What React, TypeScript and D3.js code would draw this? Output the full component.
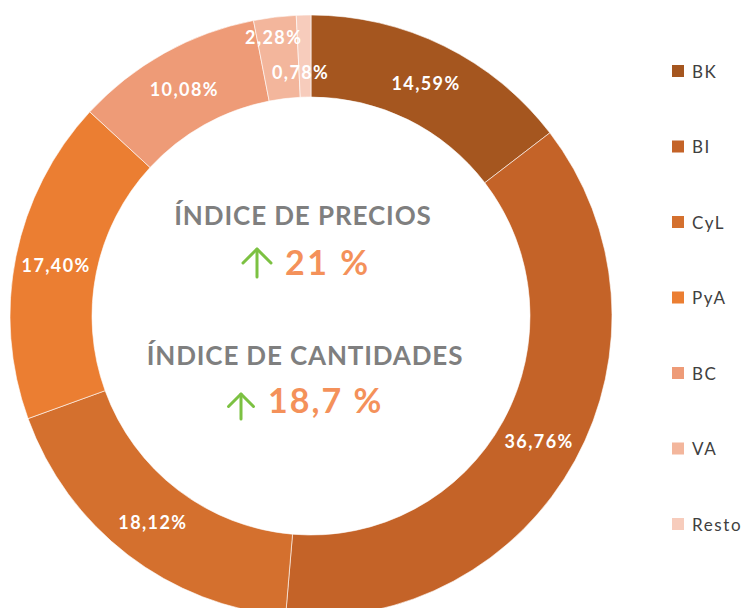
import * as d3 from 'd3'

// regions and their share of the total (%)
const regions = ["BK", "BI", "CyL", "PyA", "BC", "VA", "Resto"]
const shares = [14.59, 36.76, 18.12, 17.40, 10.08, 2.28, 0.78]
const colors = ["#A5561F", "#C46328", "#D4702E", "#EB7E32", "#EE9B77", "#F3B69C", "#F7CCBC"]

// centre captions
const priceTitle = "ÍNDICE DE PRECIOS"
const priceValue = "21 %"
const qtyTitle = "ÍNDICE DE CANTIDADES"
const qtyValue = "18,7 %"

// Excel pushes the two thin slices' labels apart
const labelNudge: Record<string, [number, number]> = {
  VA: [-6, -21],
  Resto: [-4, 16],
}

const width = 744
const height = 608
const cx = 311
const cy = 316
const outerR = 301
const innerR = 219
const font = "Lato, 'Open Sans', sans-serif"

function Arrow({ x, y, h }: { x: number; y: number; h: number }) {
  // simple up arrow, x = centre, y = bottom
  const w = h * 0.5
  return (
    <g stroke="#7CC142" strokeWidth={3} fill="none" strokeLinecap="round" strokeLinejoin="round">
      <line x1={x} y1={y} x2={x} y2={y - h} />
      <polyline points={`${x - w},${y - h + w} ${x},${y - h} ${x + w},${y - h + w}`} />
    </g>
  )
}

export default function App() {
  const data = regions.map((name, i) => ({ name, value: shares[i], color: colors[i] }))

  const pie = d3.pie<{ name: string; value: number; color: string }>()
    .sort(null)
    .value(d => d.value)
  const arcs = pie(data)

  const arc = d3.arc<d3.PieArcDatum<{ name: string; value: number; color: string }>>()
    .innerRadius(innerR)
    .outerRadius(outerR)

  const fmt = (v: number) => v.toFixed(2).replace(".", ",") + "%"

  const legendY = d3.scalePoint<string>()
    .domain(regions)
    .range([71, 524])

  return (
    <div style={{ position: "absolute", left: 0, top: 0 }}>
      <svg width={width} height={height} style={{ display: "block", background: "#fff" }}>
        <g transform={`translate(${cx},${cy})`}>
          {arcs.map(a => (
            <path key={a.data.name} d={arc(a) || ""} fill={a.data.color} stroke="#fff" strokeWidth={0.6} />
          ))}
          {arcs.map(a => {
            const [x, y] = arc.centroid(a)
            const [nx, ny] = labelNudge[a.data.name] || [0, 0]
            return (
              <text
                key={a.data.name}
                x={x + nx}
                y={y + ny}
                textAnchor="middle"
                dominantBaseline="central"
                fill="#fff"
                fontFamily={font}
                fontWeight="bold"
                fontSize={18}
                letterSpacing={1.4}
              >
                {fmt(a.data.value)}
              </text>
            )
          })}
        </g>

        {/* centre text */}
        <g fontFamily={font} fontWeight="bold">
          <text x={303} y={225} textAnchor="middle" fill="#7F7F7F" fontSize={26} letterSpacing={0.9}>{priceTitle}</text>
          <Arrow x={257} y={277} h={28} />
          <text x={285} y={275} fill="#F4915A" fontSize={34} letterSpacing={2.5}>{priceValue}</text>

          <text x={305} y={365} textAnchor="middle" fill="#7F7F7F" fontSize={26} letterSpacing={0.85}>{qtyTitle}</text>
          <Arrow x={241} y={419} h={25} />
          <text x={268} y={413} fill="#F4915A" fontSize={34} letterSpacing={2}>{qtyValue}</text>
        </g>

        {/* legend */}
        <g fontFamily={font} fontSize={17} fill="#404040" letterSpacing={1.6}>
          {regions.map((r, i) => (
            <g key={r} transform={`translate(672,${legendY(r)})`}>
              <rect x={0} y={-6} width={12} height={12} fill={colors[i]} />
              <text x={20} y={0} dominantBaseline="central">{r}</text>
            </g>
          ))}
        </g>
      </svg>
    </div>
  )
}
